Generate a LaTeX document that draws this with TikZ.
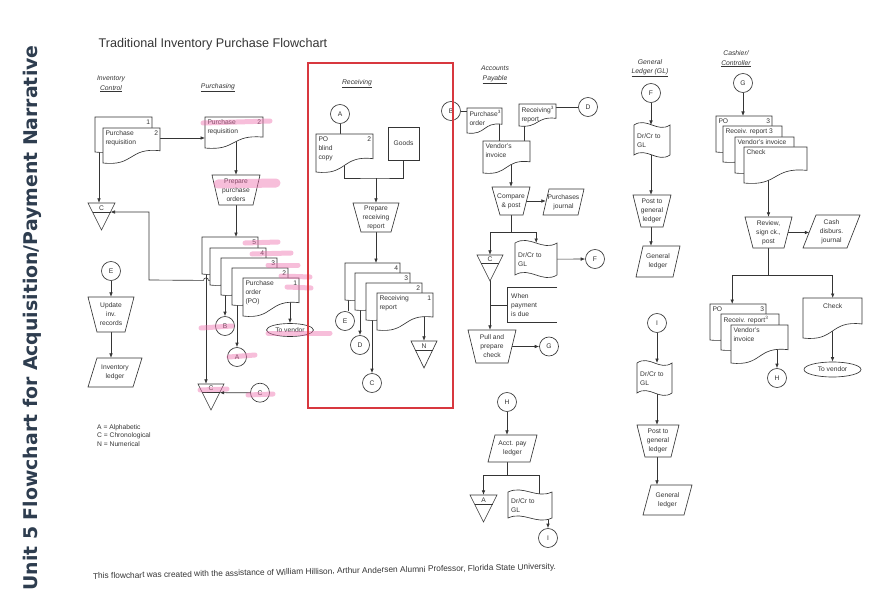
\documentclass[tikz,border=0pt]{standalone}
\usepackage{fontspec}
\usepackage{graphicx}
\setmainfont{Liberation Sans}
\newfontfamily\titlefont{DejaVu Sans}
\usetikzlibrary{shapes.geometric,arrows.meta,calc}
\pgfdeclarelayer{bg}
\pgfsetlayers{bg,main}
\definecolor{ink}{HTML}{353535}
\definecolor{redbox}{HTML}{D8383F}
\definecolor{hl}{HTML}{EE6FAE}
\definecolor{slate}{HTML}{2E3D4F}
\newcommand\dg{\fontsize{6.7}{8.9}\selectfont}
\newcommand\hd{\fontsize{6.8}{9.5}\selectfont\itshape}
\newcommand\dtext[1]{\leftskip=2.3pt\rightskip=2pt\parindent=0pt\vspace*{2.5pt}#1\par}
\newcommand\dtextc[1]{\leftskip=3pt\rightskip=2pt\parindent=0pt#1\par}
\tikzset{
  shp/.style={draw=ink, line width=0.65pt, fill=white},
  ln/.style={draw=ink, line width=0.65pt},
  arr/.style={ln, -{Latex[length=4.5pt,width=3.6pt]}},
  circ/.style={circle, draw=ink, line width=0.65pt, fill=white, minimum size=19pt, inner sep=0pt, font=\dg, text=ink},
  cbox/.style={inner sep=0pt, font=\dg, align=center, text=ink},
  hlt/.style={line width=5pt, draw=hl, opacity=0.45, line cap=round},
}
% document: name, x1, y1, x2, y2(left bottom), text
\newcommand\Doc[6]{%
  \draw[shp] (#2,#3) -- (#4,#3) -- (#4,{#5-0.35*(#5-#3)})
    .. controls ({#2+0.45*(#4-#2)},{#5-0.45*(#5-#3)}) and ({#2+0.55*(#4-#2)},{#5+0.1*(#5-#3)}) .. (#2,#5) -- cycle;
  \node[inner sep=0pt, anchor=north west, font=\dg, text=ink] (#1) at (#2,#3)
    {\parbox[t][\dimexpr#5pt-#3pt\relax][t]{\dimexpr#4pt-#2pt\relax}{\dtext{#6}}};
}
% tape: name, x1, y1, x2, y2, text
\newcommand\Tape[6]{%
  \draw[shp] (#2,#3) .. controls ({#2+0.35*(#4-#2)},{#3-0.28*(#5-#3)}) and ({#2+0.65*(#4-#2)},{#3+0.28*(#5-#3)}) .. (#4,#3)
    -- (#4,#5) .. controls ({#2+0.65*(#4-#2)},{#5+0.28*(#5-#3)}) and ({#2+0.35*(#4-#2)},{#5-0.28*(#5-#3)}) .. (#2,#5) -- cycle;
  \node[inner sep=0pt, anchor=north west, font=\dg, text=ink] (#1) at (#2,#3)
    {\parbox[t][\dimexpr#5pt-#3pt\relax][c]{\dimexpr#4pt-#2pt\relax}{\dtextc{#6}}};
}
% trapezoid: name, x1top, x2top, ytop, x1bot, x2bot, ybot, text
\newcommand\Trap[8]{%
  \draw[shp] (#2,#4) -- (#3,#4) -- (#6,#7) -- (#5,#7) -- cycle;
  \node[cbox, minimum width={(#3-#2)*1pt}, minimum height={(#7-#4)*1pt}] (#1) at ({(#2+#3)/2},{(#4+#7)/2}) {#8};
}
% parallelogram: name, x1, y1, x2, y2, slant, text
\newcommand\Para[7]{%
  \draw[shp] ({#2+#6},#3) -- (#4,#3) -- ({#4-#6},#5) -- (#2,#5) -- cycle;
  \node[cbox, minimum width={(#4-#2)*1pt}, minimum height={(#5-#3)*1pt}] (#1) at ({(#2+#4)/2},{(#3+#5)/2}) {#7};
}
% file triangle: name, x1, y1, x2, y2(apex), letter
\newcommand\Tri[6]{%
  \draw[shp] (#2,#3) -- (#4,#3) -- ({(#2+#4)/2},#5) -- cycle;
  \draw[ln] ({#2+(#4-#2)/6},{#3+(#5-#3)/3}) -- ({#4-(#4-#2)/6},{#3+(#5-#3)/3});
  \node[cbox, minimum width={(#4-#2)*1pt}, minimum height={(#5-#3)*1pt}] (#1) at ({(#2+#4)/2},{(#3+#5)/2}) {};
  \node[cbox] (#1-l) at ({(#2+#4)/2},{#3+(#5-#3)/6+0.3}) {#6};
  \coordinate (#1-r) at ({#4-(#4-#2)/6},{#3+(#5-#3)/3});
}
\begin{document}
\begin{tikzpicture}[x=1pt,y=-1pt]
\useasboundingbox (0,0) rectangle (894,607);
\begin{pgfonlayer}{bg}
\fill[white] (0,0) rectangle (894,607);
\end{pgfonlayer}

% side title, main title, footer
\node[rotate=90, text=slate, inner sep=0pt] (vtitle) at (32,318)
  {\resizebox{545pt}{!}{\titlefont\bfseries Unit 5 Flowchart for Acquisition/Payment Narrative}};
\node[text=ink, inner sep=0pt, font=\fontsize{12.6}{14}\selectfont] (title) at (213,44)
  {Traditional Inventory Purchase Flowchart};
\node[text=ink, inner sep=0pt, rotate=1.2] (foot) at (324.5,572)
  {\resizebox{463pt}{!}{\fontsize{7}{8}\selectfont This flowchart was created with the assistance of William Hillison, Arthur Andersen Alumni Professor, Florida State University.}};

% column headings
\node[cbox, font=\hd] (hIC) at (111,84) {Inventory\\\underline{Control}};
\node[cbox, font=\hd] (hPU) at (218,88) {\underline{Purchasing}};
\node[cbox, font=\hd] (hRE) at (357,84) {\underline{Receiving}};
\node[cbox, font=\hd] (hAP) at (495,75) {Accounts\\\underline{Payable}};
\node[cbox, font=\hd] (hGL) at (650,68) {General\\\underline{Ledger (GL)}};
\node[cbox, font=\hd] (hCC) at (736,59) {Cashier/\\\underline{Controller}};

% ---------- Inventory Control ----------
\Doc{reqB}{95}{117}{152}{152}{\hfill 1}
\Doc{reqF}{103}{128}{160}{163}{Purchase\hfill 2\\requisition}
\Tri{triCa}{88}{203}{115}{230}{C}
\node[circ] (circEa) at (111,271) {E};
\Trap{trapUpd}{88}{134}{297}{97}{125}{332}{Update\\inv.\\records}
\Para{paraInv}{88}{358}{142}{387}{9}{Inventory\\ledger}
\node[anchor=north west, font=\dg, align=left, text=ink, inner sep=0pt] (legend) at (97,424)
  {A = Alphabetic\\C = Chronological\\N = Numerical};

% ---------- Purchasing ----------
\Doc{pReq}{205}{117}{263}{148}{Purchase\hfill 2\\requisition}
\Trap{trapPO}{212}{260}{175}{219}{253}{205}{Prepare\\purchase\\orders}
\Doc{po5}{202}{237}{258}{274}{\hfill 5}
\Doc{po4}{210}{248}{266}{285}{\hfill 4}
\Doc{po3}{221}{258}{277}{295}{\hfill 3}
\Doc{po2}{232}{268}{288}{305}{\hfill 2}
\Doc{po1}{243}{278}{299}{316}{Purchase\hfill 1\\order\\(PO)}
\node[circ] (circB) at (225,326) {B};
\node[circ] (circA) at (237,357) {A};
\node[ellipse, draw=ink, line width=0.65pt, fill=white, minimum width=47pt, minimum height=13pt, inner sep=0pt, font=\dg, text=ink] (vendor) at (290,330) {To vendor};
\Tri{triCb}{198}{384}{224}{410}{C}
\node[circ] (circCb) at (260,392.7) {C};

% ---------- Receiving ----------
\node[circ] (circAr) at (340,114) {A};
\Doc{poBlind}{316}{134}{373}{172}{PO\hfill 2\\blind\\copy}
\node[draw=ink, line width=0.65pt, fill=white, minimum width=31pt, minimum height=33pt, inner sep=0pt, font=\dg, text=ink] (goods) at (403.5,143.5) {Goods};
\coordinate (rj) at (376,178);
\Trap{trapRec}{353}{399}{203}{361}{391}{232}{Prepare\\receiving\\report}
\Doc{rs4}{345}{263}{400}{300}{\hfill 4}
\Doc{rs3}{355}{273}{410}{310}{\hfill 3}
\Doc{rs2}{366}{283}{422}{320}{\hfill 2}
\Doc{rs1}{377}{293}{433}{330}{Receiving\hfill 1\\report}
\node[circ] (circEr) at (345,321) {E};
\node[circ] (circDr) at (360,345) {D};
\node[circ] (circCr) at (372,383) {C};
\Tri{triN}{411}{341}{437}{368}{N}

% ---------- Accounts Payable ----------
\node[circ] (circBa) at (451,111) {B};
\Doc{apPO}{467}{108}{502}{133}{Purchase\textsuperscript{3}\\order}
\Doc{apRR}{519}{104}{556}{126}{Receiving\textsuperscript{3}\\report}
\node[circ] (circDa) at (588,107) {D};
\Doc{apVI}{483}{141}{530}{173}{Vendor's\\invoice}
\Trap{trapCP}{492}{530}{187}{500}{523}{215}{Compare\\\& post}
\Para{paraPJ}{543}{189}{584}{215}{6}{Purchases\\journal}
\coordinate (apj) at (511,232);
\Tri{triCc}{477}{255}{503}{281}{C}
\Tape{tapeAP}{515}{243}{557}{275}{Dr/Cr to\\GL}
\node[circ] (circFa) at (595,259) {F};
\node[inner sep=0pt, minimum width=49pt, minimum height=34pt] (ann) at (532.5,305) {};
\draw[ln] (ann.north east) -- (ann.north west) -- (ann.south west) -- (ann.south east);
\node[cbox, align=left, anchor=west] (annt) at (511,305) {When\\payment\\is due};
\Trap{trapPay}{468}{516}{330}{476}{508}{363}{Pull and\\prepare\\check}
\node[circ] (circGa) at (549,346.5) {G};
\node[circ] (circHa) at (507,402) {H};
\Para{paraAPL}{488}{435}{537}{462}{7}{Acct. pay\\ledger}
\coordinate (apj2) at (507,475);
\Tri{triAa}{470}{495}{497}{522}{A}
\Tape{tapeAP2}{508}{492}{552}{518}{Dr/Cr to\\GL}
\node[circ] (circIa) at (548,538) {I};

% ---------- General Ledger ----------
\node[circ] (circFg) at (651,93) {F};
\Tape{tapeGL1}{634}{125}{670}{155}{Dr/Cr to\\GL}
\Trap{trapGL1}{633}{671}{195}{641}{663}{227}{Post to\\general\\ledger}
\Para{paraGL1}{636}{246}{680}{277}{7}{General\\ledger}
\node[circ] (circIg) at (657,323) {I};
\Tape{tapeGL2}{637}{363}{672}{393}{Dr/Cr to\\GL}
\Trap{trapGL2}{637}{679}{425}{645}{671}{457}{Post to\\general\\ledger}
\Para{paraGL2}{643}{485}{692}{515}{8}{General\\ledger}

% ---------- Cashier / Controller ----------
\node[circ] (circGc) at (743,83) {G};
\Doc{cs1}{716}{116}{772}{152}{PO\hfill 3}
\Doc{cs2}{723}{126}{782}{162}{Receiv. report 3}
\Doc{cs3}{735}{137}{794}{173}{Vendor's invoice}
\Doc{cs4}{744}{147}{807}{183}{Check}
\Trap{trapRev}{745}{792}{217}{753}{784}{248}{Review,\\sign ck.,\\post}
\Para{paraCD}{803}{215}{860}{248}{13}{Cash\\disburs.\\journal}
\coordinate (csj) at (768.5,275);
\Doc{ls1}{710}{304}{766}{340}{PO\hfill 3}
\Doc{ls2}{721}{314}{779}{350}{Receiv. report\textsuperscript{3}}
\Doc{ls3}{731}{325}{788}{363}{Vendor's\\invoice}
\node[circ] (circHc) at (777,378) {H};
\Doc{chk}{803}{298}{862}{338}{\vspace*{3pt}\centering Check}
\node[ellipse, draw=ink, line width=0.65pt, fill=white, minimum width=57pt, minimum height=15pt, inner sep=0pt, font=\dg, text=ink] (vendorb) at (832.5,369.5) {To vendor};

% ---------- connectors ----------
\begin{pgfonlayer}{bg}
% inventory control
\draw[arr] ([yshift=-10pt]reqF.north east) -- ([yshift=-10pt]reqF.north east -| pReq.west);
\draw[arr] ([xshift=4pt,yshift=3pt]reqB.south west) -- ([xshift=4pt]reqB.south west |- triCa.north);
\draw[arr] (circEa) -- (circEa |- trapUpd.north);
\draw[arr] (trapUpd.center) -- (trapUpd.center |- paraInv.north);
\draw[arr] ([xshift=2pt,yshift=5pt]po4.south west) -- ++(-3.5,0)
   arc[start angle=0, end angle=-180, radius=2.5] -- (149,280) -- (149,212) -- (triCa-r);
% purchasing
\draw[arr] (trapPO.north |- pReq.center) -- (trapPO.north);
\draw[arr] (trapPO.center) -- (trapPO.center |- po5.north);
\draw[arr] ([xshift=4pt,yshift=4pt]po5.south west) -- ([xshift=4pt]po5.south west |- triCb.north);
\draw[arr] ([xshift=4pt,yshift=4pt]po3.south west) -- (circB);
\draw[arr] ([xshift=5pt,yshift=4pt]po2.south west) -- (circA);
\draw[arr] (vendor.north |- po1.center) -- (vendor.north);
\draw[arr] (circCb) -- (triCb-r);
% receiving
\draw[ln] (circAr) -- (circAr |- poBlind.north);
\draw[ln] (poBlind.center) |- (rj) -| (goods.south);
\draw[arr] (rj) -- (rj |- trapRec.north);
\draw[arr] (trapRec.center) -- (trapRec.center |- rs4.north);
\draw[ln] ([xshift=3pt,yshift=4pt]rs4.south west) -- ([xshift=3pt]rs4.south west |- circEr.north);
\draw[arr] ([xshift=5pt,yshift=4pt]rs3.south west) -- (circDr);
\draw[arr] ([xshift=6pt,yshift=4pt]rs2.south west) -- (circCr);
\draw[arr] (triN.north |- rs1.center) -- (triN.north);
% accounts payable
\draw[ln] (circBa) -- (circBa -| apPO.west);
\draw[ln] (circDa) -- (circDa -| apRR.east);
\draw[ln] ([xshift=-3pt]apPO.east) -- ([xshift=-3pt]apPO.east |- apVI.north);
\draw[ln] ([xshift=5pt]apRR.west) -- ([xshift=5pt]apRR.west |- apVI.north);
\draw[arr] (trapCP.north |- apVI.center) -- (trapCP.north);
\draw[arr] (trapCP.center) -- ([xshift=3pt]trapCP.center -| paraPJ.west);
\draw[ln] (trapCP.center) -- (apj);
\draw[arr] (apj) -| (triCc.north);
\draw[arr] (apj) -| (tapeAP.north);
\draw[arr] (triCc.center) -- (triCc.center |- trapPay.north);
\draw[ln] (ann.west) -- (ann.west -| triCc.center);
\draw[arr] (trapPay.center) -- (circGa);
\draw[arr] (tapeAP.center) -- (circFa);
\draw[arr] (circHa) -- (circHa |- paraAPL.north);
\draw[ln] (circHa |- paraAPL.center) -- (apj2);
\draw[arr] (apj2) -| (triAa.north);
\draw[ln] (apj2) -| ([xshift=9pt]tapeAP2.center);
\draw[arr] (circIa |- tapeAP2.center) -- (circIa);
% general ledger
\draw[arr] (circFg) -- (circFg |- tapeGL1.north);
\draw[arr] (circFg |- tapeGL1.center) -- (circFg |- trapGL1.north);
\draw[arr] (circFg |- trapGL1.center) -- (circFg |- paraGL1.north);
\draw[arr] (circIg) -- (circIg |- tapeGL2.north);
\draw[arr] (circIg |- tapeGL2.center) -- (circIg |- trapGL2.north);
\draw[arr] (circIg |- trapGL2.center) -- (circIg |- paraGL2.north);
% cashier
\draw[arr] (circGc) -- (circGc |- cs1.north);
\draw[arr] (trapRev.north |- cs4.center) -- (trapRev.north);
\draw[arr] (trapRev.center) -- ([xshift=6.5pt]trapRev.center -| paraCD.west);
\draw[ln] (trapRev.center) -- (csj);
\draw[arr] (csj) -| ([xshift=-6pt]ls1.north);
\draw[arr] (csj) -| (chk.north);
\draw[arr] (circHc |- ls3.center) -- (circHc);
\draw[arr] (vendorb.north |- chk.center) -- (vendorb.north);
\end{pgfonlayer}

% highlighter marks
\draw[hlt] (203,123) -- (270,121);
\draw[hlt, line width=9pt] (218,184) -- (276,183);
\draw[hlt] (245,243) -- (278,242);
\draw[hlt] (252,254) -- (291,253);
\draw[hlt] (268,265) -- (298,265);
\draw[hlt] (281,276) -- (310,277);
\draw[hlt] (287,287) -- (311,288);
\draw[hlt] (201,328) -- (232,326);
\draw[hlt] (229,357) -- (255,355);
\draw[hlt] (200,390) -- (227,389);
\draw[hlt] (248,395) -- (273,394);
\draw[hlt] (268,333) -- (330,333);

% red frame round the receiving column
\draw[redbox, line width=1.1pt] (308,63) rectangle (453,408);
\end{tikzpicture}
\end{document}
